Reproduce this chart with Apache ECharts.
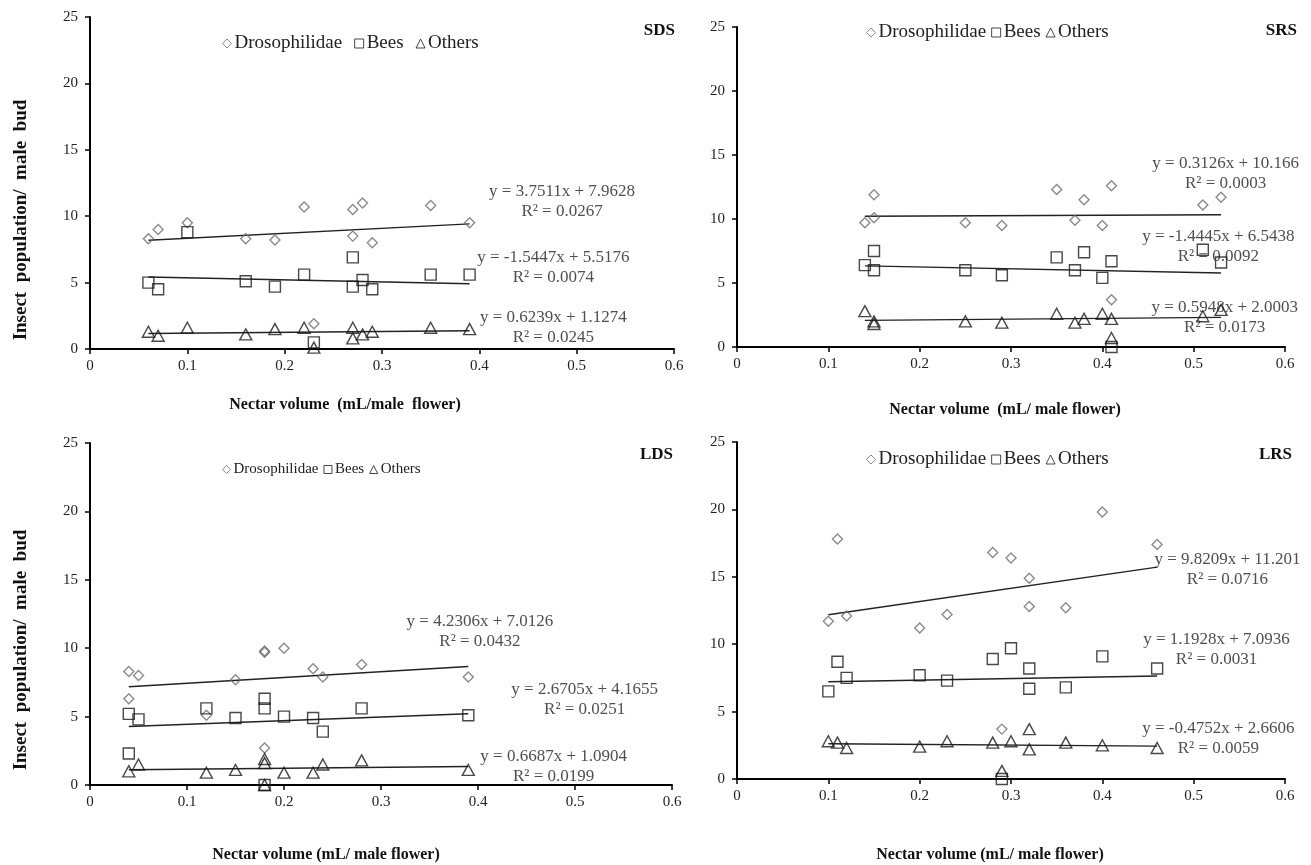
<!DOCTYPE html>
<html>
<head>
<meta charset="utf-8">
<script src="https://cdn.jsdelivr.net/npm/echarts@6/dist/echarts.min.js"></script>
<style>
html,body{margin:0;padding:0;background:#fff;}
#chart{width:1311px;height:865px;}
</style>
</head>
<body>
<div id="chart"></div>
<script>
// ---------- DATA ----------
const panelNames = ['SDS', 'SRS', 'LDS', 'LRS'];
const seriesNames = ['Drosophilidae', 'Bees', 'Others'];
const xTicks = [0, 0.1, 0.2, 0.3, 0.4, 0.5, 0.6];
const yTicks = [0, 5, 10, 15, 20, 25];

// SDS
const sdsDrosophilidae = [[0.06,8.3],[0.07,9.0],[0.10,9.5],[0.16,8.3],[0.19,8.2],[0.22,10.7],[0.23,1.9],[0.27,10.5],[0.27,8.5],[0.28,11.0],[0.29,8.0],[0.35,10.8],[0.39,9.5]];
const sdsBees = [[0.06,5.0],[0.07,4.5],[0.10,8.8],[0.16,5.1],[0.19,4.7],[0.22,5.6],[0.23,0.5],[0.27,6.9],[0.27,4.7],[0.28,5.2],[0.29,4.5],[0.35,5.6],[0.39,5.6]];
const sdsOthers = [[0.06,1.3],[0.07,1.0],[0.10,1.6],[0.16,1.1],[0.19,1.5],[0.22,1.6],[0.23,0.1],[0.27,1.6],[0.27,0.8],[0.28,1.1],[0.29,1.3],[0.35,1.6],[0.39,1.5]];
// SRS
const srsDrosophilidae = [[0.14,9.7],[0.15,11.9],[0.15,10.1],[0.25,9.7],[0.29,9.5],[0.35,12.3],[0.37,9.9],[0.38,11.5],[0.40,9.5],[0.41,12.6],[0.41,3.7],[0.51,11.1],[0.53,11.7]];
const srsBees = [[0.14,6.4],[0.15,7.5],[0.15,6.0],[0.25,6.0],[0.29,5.6],[0.35,7.0],[0.37,6.0],[0.38,7.4],[0.40,5.4],[0.41,6.7],[0.41,0.0],[0.51,7.6],[0.53,6.6]];
const srsOthers = [[0.14,2.8],[0.15,2.0],[0.15,1.8],[0.25,2.0],[0.29,1.9],[0.35,2.6],[0.37,1.9],[0.38,2.2],[0.40,2.6],[0.41,2.2],[0.41,0.7],[0.51,2.4],[0.53,2.9]];
// LDS
const ldsDrosophilidae = [[0.04,8.3],[0.04,6.3],[0.05,8.0],[0.12,5.1],[0.15,7.7],[0.18,9.8],[0.18,9.7],[0.18,2.7],[0.20,10.0],[0.23,8.5],[0.24,7.9],[0.28,8.8],[0.39,7.9]];
const ldsBees = [[0.04,5.2],[0.04,2.3],[0.05,4.8],[0.12,5.6],[0.15,4.9],[0.18,6.3],[0.18,5.6],[0.18,0.0],[0.20,5.0],[0.23,4.9],[0.24,3.9],[0.28,5.6],[0.39,5.1]];
const ldsOthers = [[0.04,1.0],[0.05,1.5],[0.12,0.9],[0.15,1.1],[0.18,1.9],[0.18,1.6],[0.18,0.0],[0.20,0.9],[0.23,0.9],[0.24,1.5],[0.28,1.8],[0.39,1.1]];
// LRS
const lrsDrosophilidae = [[0.10,11.7],[0.11,17.8],[0.12,12.1],[0.20,11.2],[0.23,12.2],[0.28,16.8],[0.29,3.7],[0.30,16.4],[0.32,14.9],[0.32,12.8],[0.36,12.7],[0.40,19.8],[0.46,17.4]];
const lrsBees = [[0.10,6.5],[0.11,8.7],[0.12,7.5],[0.20,7.7],[0.23,7.3],[0.28,8.9],[0.29,0.0],[0.30,9.7],[0.32,8.2],[0.32,6.7],[0.36,6.8],[0.40,9.1],[0.46,8.2]];
const lrsOthers = [[0.10,2.8],[0.11,2.7],[0.12,2.3],[0.20,2.4],[0.23,2.8],[0.28,2.7],[0.29,0.6],[0.30,2.8],[0.32,3.7],[0.32,2.2],[0.36,2.7],[0.40,2.5],[0.46,2.3]];

// Trendline coefficients (slope, intercept, R²) per panel: Drosophilidae, Bees, Others
const sdsSlopes = [3.7511, -1.5447, 0.6239];
const sdsIntercepts = [7.9628, 5.5176, 1.1274];
const sdsR2 = ['0.0267', '0.0074', '0.0245'];
const srsSlopes = [0.3126, -1.4445, 0.5948];
const srsIntercepts = [10.166, 6.5438, 2.0003];
const srsR2 = ['0.0003', '0.0092', '0.0173'];
const ldsSlopes = [4.2306, 2.6705, 0.6687];
const ldsIntercepts = [7.0126, 4.1655, 1.0904];
const ldsR2 = ['0.0432', '0.0251', '0.0199'];
const lrsSlopes = [9.8209, 1.1928, -0.4752];
const lrsIntercepts = [11.201, 7.0936, 2.6606];
const lrsR2 = ['0.0716', '0.0031', '0.0059'];

// Equation label anchors (data coordinates)
const sdsEqAnchors = [[0.485, 11.1], [0.476, 6.11], [0.476, 1.59]];
const srsEqAnchors = [[0.535, 13.55], [0.527, 7.85], [0.534, 2.3]];
const ldsEqAnchors = [[0.402, 11.24], [0.51, 6.24], [0.478, 1.35]];
const lrsEqAnchors = [[0.537, 15.56], [0.525, 9.58], [0.527, 2.98]];

const xAxisTitles = ['Nectar volume  (mL/male  flower)', 'Nectar volume  (mL/ male flower)', 'Nectar volume (mL/ male flower)', 'Nectar volume (mL/ male flower)'];
const yAxisTitle = 'Insect  population/  male  bud';

// ---------- BUILD ----------
const FONT = '"Liberation Serif", "Times New Roman", serif';
const panels = [
  {data: [sdsDrosophilidae, sdsBees, sdsOthers], s: sdsSlopes, b: sdsIntercepts, r: sdsR2, eq: sdsEqAnchors},
  {data: [srsDrosophilidae, srsBees, srsOthers], s: srsSlopes, b: srsIntercepts, r: srsR2, eq: srsEqAnchors},
  {data: [ldsDrosophilidae, ldsBees, ldsOthers], s: ldsSlopes, b: ldsIntercepts, r: ldsR2, eq: ldsEqAnchors},
  {data: [lrsDrosophilidae, lrsBees, lrsOthers], s: lrsSlopes, b: lrsIntercepts, r: lrsR2, eq: lrsEqAnchors}
];

const grids = [
  {left: 90, top: 17, width: 584, height: 332},
  {left: 737, top: 27, width: 548, height: 320},
  {left: 90, top: 443, width: 582, height: 342},
  {left: 737, top: 442, width: 548, height: 337}
];
const xNameLayout = [
  {gap: 48, pad: [0, 74, 0, 0]},
  {gap: 55, pad: [0, 12, 0, 0]},
  {gap: 62, pad: [0, 110, 0, 0]},
  {gap: 68, pad: [0, 42, 0, 0]}
];
const yNamePad = [[0, 74, 0, 0], null, [0, 72, 0, 0], null];
const legendPos = [
  {left: 222, top: 34, size: 19, icon: 9, gap: 12},
  {left: 866, top: 23, size: 19, icon: 9, gap: 5},
  {left: 222, top: 462, size: 15, icon: 8, gap: 5},
  {left: 866, top: 450, size: 19, icon: 9, gap: 5}
];
const titlePos = [
  {right: 636, top: 22},
  {right: 14, top: 22},
  {right: 638, top: 446},
  {right: 19, top: 446}
];

const symbols = ['diamond', 'rect', 'triangle'];
const symSizes = [[10, 10], [11, 11], [12, 11]];
const symColors = ['#6e6e6e', '#1a1a1a', '#1a1a1a'];

const xAxes = [], yAxes = [], series = [], legends = [], titles = [];

panels.forEach((p, i) => {
  xAxes.push({
    gridIndex: i, type: 'value', min: xTicks[0], max: xTicks[xTicks.length - 1], interval: 0.1,
    axisLine: {show: true, onZero: false, lineStyle: {color: '#000', width: 2}},
    axisTick: {show: true, length: 5, lineStyle: {color: '#000', width: 1.5}},
    splitLine: {show: false},
    axisLabel: {fontFamily: FONT, fontSize: 15, color: '#222', margin: 10,
      formatter: v => String(Math.round(v * 10) / 10)},
    name: xAxisTitles[i], nameLocation: 'middle', nameGap: xNameLayout[i].gap,
    nameTextStyle: {fontFamily: FONT, fontSize: 16, fontWeight: 'bold', color: '#111', padding: xNameLayout[i].pad}
  });
  yAxes.push({
    gridIndex: i, type: 'value', min: yTicks[0], max: yTicks[yTicks.length - 1], interval: 5,
    axisLine: {show: true, onZero: false, lineStyle: {color: '#000', width: 2}},
    axisTick: {show: true, length: 5, lineStyle: {color: '#000', width: 1.5}},
    splitLine: {show: false},
    axisLabel: {fontFamily: FONT, fontSize: 15, color: '#222', margin: 12},
    name: (i % 2 === 0) ? yAxisTitle : '', nameLocation: 'middle', nameGap: 59,
    nameTextStyle: {fontFamily: FONT, fontSize: 19, fontWeight: 'bold', color: '#111',
      padding: yNamePad[i] || 0}
  });

  p.data.forEach((d, k) => {
    series.push({
      type: 'scatter', name: seriesNames[k], xAxisIndex: i, yAxisIndex: i,
      data: d, symbol: symbols[k], symbolSize: symSizes[k],
      itemStyle: {color: 'rgba(255,255,255,0)', borderColor: symColors[k], borderWidth: 1.4},
      emphasis: {disabled: true}, z: 3
    });
    const xs = d.map(v => v[0]);
    const x0 = Math.min(...xs), x1 = Math.max(...xs);
    series.push({
      type: 'line', xAxisIndex: i, yAxisIndex: i, symbol: 'none', silent: true,
      data: [[x0, p.s[k] * x0 + p.b[k]], [x1, p.s[k] * x1 + p.b[k]]],
      lineStyle: {color: '#222', width: 1.4}, z: 2
    });
  });

  const fmt = (s, b) => 'y = ' + s + 'x + ' + b;
  series.push({
    type: 'scatter', xAxisIndex: i, yAxisIndex: i, symbolSize: 0, silent: true,
    data: p.eq.map((a, k) => ({name: fmt(p.s[k], p.b[k]) + '\nR² = ' + p.r[k], value: a})),
    label: {show: true, position: 'inside', formatter: '{b}', fontFamily: FONT, fontSize: 17,
      lineHeight: 20, color: '#222', align: 'center'},
    z: 4
  });

  legends.push({
    left: legendPos[i].left, top: legendPos[i].top, orient: 'horizontal',
    itemWidth: legendPos[i].icon, itemHeight: legendPos[i].icon, itemGap: legendPos[i].gap, padding: 0,
    selectedMode: false,
    data: seriesNames.map((n, k) => ({name: n, icon: symbols[k],
      itemStyle: {color: 'rgba(255,255,255,0)', borderColor: symColors[k], borderWidth: 1}})),
    textStyle: {fontFamily: FONT, fontSize: legendPos[i].size, color: '#222', padding: [0, 0, 0, -2]}
  });

  titles.push({
    text: panelNames[i], right: titlePos[i].right, top: titlePos[i].top,
    textStyle: {fontFamily: FONT, fontSize: 17, fontWeight: 'bold', color: '#111'}, padding: 0
  });
});

const chart = echarts.init(document.getElementById('chart'), null, {renderer: 'canvas'});
chart.setOption({
  animation: false,
  backgroundColor: '#fff',
  title: titles,
  legend: legends,
  grid: grids,
  xAxis: xAxes,
  yAxis: yAxes,
  series: series
});
</script>
</body>
</html>
